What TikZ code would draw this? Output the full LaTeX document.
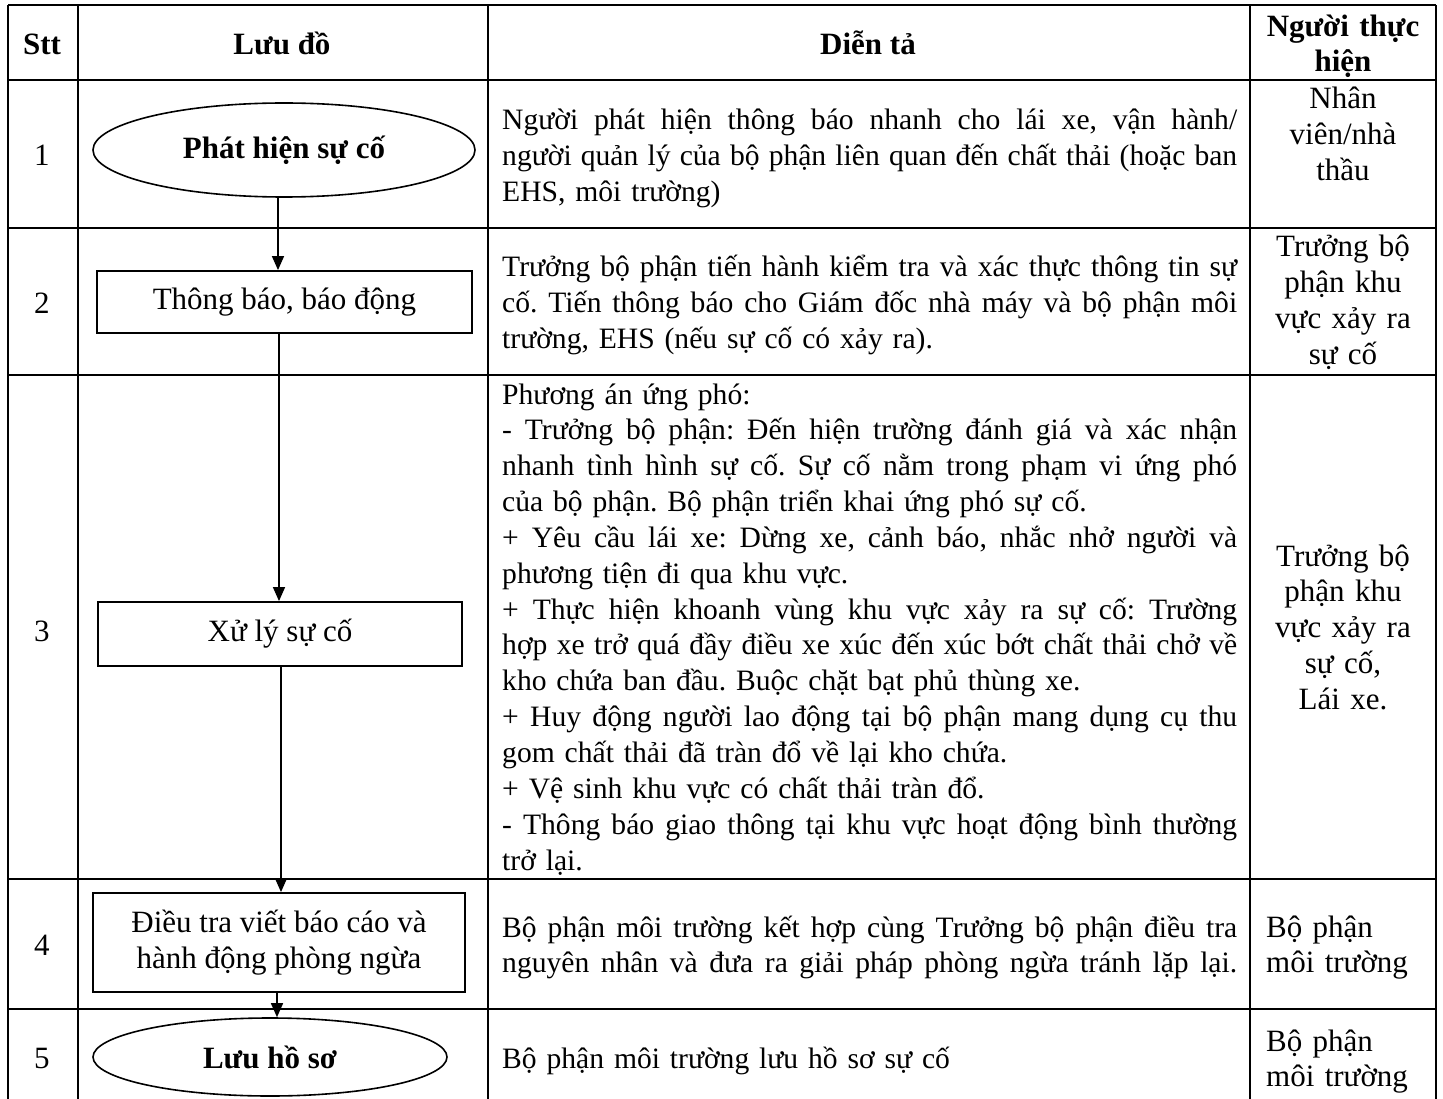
\documentclass[tikz,border=0pt]{standalone}
\usepackage{fontspec}
\setmainfont{Liberation Serif}
\usetikzlibrary{shapes.geometric,arrows.meta}
\newcommand\jline[1]{{\spaceskip=7.4pt plus 8pt minus 3.6pt\relax\makebox[735pt][s]{#1}}\par}
\newcommand\lline[1]{\makebox[735pt][l]{#1}\par}
\frenchspacing
\begin{document}
\begin{tikzpicture}[x=1pt,y=-1pt,
  grid/.style={line width=1.6pt},
  flowbox/.style={draw,line width=1.8pt,rectangle,inner sep=0pt,font=\fontsize{31}{35.85}\selectfont},
  flowell/.style={draw,line width=1.6pt,ellipse,inner sep=0pt,font=\fontsize{31}{35.85}\selectfont\bfseries},
  arr/.style={line width=1.4pt,-{Triangle[width=12pt,length=14pt]}},
  txt/.style={inner sep=0pt,font=\fontsize{31}{35.85}\selectfont},
  desc/.style={inner sep=0pt,font=\fontsize{29.6}{35.85}\selectfont,text width=735pt,align=left,anchor=base west},
  who/.style={txt,text width=180pt,align=center,anchor=base},
  whol/.style={txt,text width=170pt,align=left,anchor=base west},
  num/.style={txt,anchor=base},
  hdr/.style={txt,font=\fontsize{31}{35}\selectfont\bfseries,anchor=base}]
\useasboundingbox (0,0) rectangle (1443,1099);
% table grid
\foreach \yy in {5,80,228,375,879,1009} \draw[grid] (8,\yy) -- (1436,\yy);
\foreach \xx in {8,78,488,1250,1436} \draw[grid] (\xx,5) -- (\xx,1099);
% header
\node[hdr] (hstt) at (42,55) {Stt};
\node[hdr] (hluu) at (282,55) {Lưu đồ};
\node[hdr] (hdien) at (868,55) {Diễn tả};
\node[hdr,text width=180pt,align=center] (hnguoi) at (1343,37) {Người thực\\hiện};
% numbers
\node[num] (n1) at (42,166) {1};
\node[num] (n2) at (42,313) {2};
\node[num] (n3) at (42,641) {3};
\node[num] (n4) at (42,955) {4};
\node[num] (n5) at (42,1068) {5};
% flowchart
\node[flowell,minimum width=382pt,minimum height=94pt] (e1) at (284,150) {Phát hiện sự cố};
\node[flowbox,minimum width=375pt,minimum height=62pt] (b2) at (284.5,302) {Thông báo, báo động};
\node[flowbox,minimum width=364pt,minimum height=64pt] (b3) at (280,634) {Xử lý sự cố};
\node[flowbox,minimum width=372pt,minimum height=99pt,align=center] (b4) at (279,942.5) {Điều tra viết báo cáo và\\hành động phòng ngừa};
\node[flowell,minimum width=354pt,minimum height=78pt] (e5) at (270,1057) {Lưu hồ sơ};
\draw[arr] ([xshift=-6pt]e1.south) -- ([xshift=-6.5pt]b2.north);
\draw[arr] ([xshift=-5.5pt]b2.south) -- ([xshift=-1pt]b3.north);
\draw[arr] ([xshift=1pt]b3.south) -- ([xshift=2pt]b4.north);
\draw[arr] ([xshift=-2pt]b4.south) -- ([xshift=7pt]e5.north);
% descriptions
\node[desc] (d1) at (502,130) {\jline{Người phát hiện thông báo nhanh cho lái xe, vận hành/}\jline{người quản lý của bộ phận liên quan đến chất thải (hoặc ban}\lline{EHS, môi trường)}};
\node[desc] (d2) at (502,277) {\jline{Trưởng bộ phận tiến hành kiểm tra và xác thực thông tin sự}\jline{cố. Tiến thông báo cho Giám đốc nhà máy và bộ phận môi}\lline{trường, EHS (nếu sự cố có xảy ra).}};
\node[desc] (d3) at (502,404) {\lline{Phương án ứng phó:}\jline{- Trưởng bộ phận: Đến hiện trường đánh giá và xác nhận}\jline{nhanh tình hình sự cố. Sự cố nằm trong phạm vi ứng phó}\lline{của bộ phận. Bộ phận triển khai ứng phó sự cố.}\jline{+ Yêu cầu lái xe: Dừng xe, cảnh báo, nhắc nhở người và}\lline{phương tiện đi qua khu vực.}\jline{+ Thực hiện khoanh vùng khu vực xảy ra sự cố: Trường}\jline{hợp xe trở quá đầy điều xe xúc đến xúc bớt chất thải chở về}\lline{kho chứa ban đầu. Buộc chặt bạt phủ thùng xe.}\jline{+ Huy động người lao động tại bộ phận mang dụng cụ thu}\lline{gom chất thải đã tràn đổ về lại kho chứa.}\lline{+ Vệ sinh khu vực có chất thải tràn đổ.}\jline{- Thông báo giao thông tại khu vực hoạt động bình thường}\lline{trở lại.}};
\node[desc] (d4) at (502,937) {\jline{Bộ phận môi trường kết hợp cùng Trưởng bộ phận điều tra}\jline{nguyên nhân và đưa ra giải pháp phòng ngừa tránh lặp lại.}};
\node[desc] (d5) at (502,1068) {\lline{Bộ phận môi trường lưu hồ sơ sự cố}};
% performers
\node[who] (w1) at (1343,109) {Nhân\\viên/nhà\\thầu};
\node[who] (w2) at (1343,257) {Trưởng bộ\\phận khu\\vực xảy ra\\sự cố};
\node[who] (w3) at (1343,566) {Trưởng bộ\\phận khu\\vực xảy ra\\sự cố,\\Lái xe.};
\node[whol] (w4) at (1266,937) {Bộ phận\\môi trường};
\node[whol] (w5) at (1266,1051) {Bộ phận\\môi trường};
\end{tikzpicture}
\end{document}
